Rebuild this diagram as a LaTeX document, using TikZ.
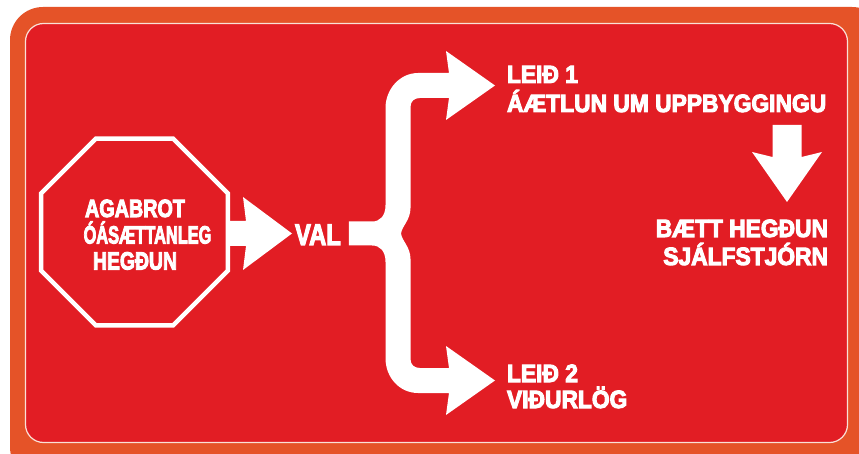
\documentclass[tikz,border=0pt]{standalone}
\usepackage{graphicx}
\usepackage{fontspec}
\setmainfont{Liberation Sans}[FakeStretch=0.912,BoldFeatures={FakeBold=4}]
\usetikzlibrary{shapes.geometric}
\definecolor{framecol}{RGB}{229,83,40}
\definecolor{panelred}{RGB}{226,29,36}
\definecolor{edgeline}{RGB}{250,225,215}
\begin{document}
\begin{tikzpicture}[x=1pt,y=-1pt,
  lbl/.style={text=white,inner sep=0pt,outer sep=0pt,font=\bfseries\fontsize{25}{28}\selectfont},
  octlbl/.style={lbl},
  vallbl/.style={lbl,font=\bfseries\fontsize{30}{32}\selectfont},
  blockarrow/.style={fill=white,draw=none}]
\useasboundingbox (0,0) rectangle (859,454);
\fill[white] (0,0) rectangle (859,454);
\begin{scope}
  \clip (0,0) rectangle (859,454);
  \fill[framecol,rounded corners=33pt] (10,7) rectangle (885,480);
\end{scope}
\filldraw[fill=panelred,draw=edgeline,line width=1.2pt,rounded corners=18pt] (25.5,23.5) rectangle (847.5,442.5);

% octagon
\node[regular polygon,regular polygon sides=8,draw=white,line width=4.5pt,
      minimum size=202pt,inner sep=0pt] (oct) at (134.5,232) {};
\node[octlbl,anchor=base] (o1) at (135,217) {\scalebox{0.867}[1]{AGABROT}};
\node[octlbl,anchor=base] (o2) at (147.5,243.5) {\scalebox{0.717}[1]{ÓÁSÆTTANLEG}};
\node[octlbl,anchor=base] (o3) at (135,269.5) {\scalebox{0.85}[1]{HEGÐUN}};

% VAL
\node[vallbl,anchor=base west] (val) at (295,245) {\scalebox{0.87}[1]{VAL}};

% arrow octagon -> VAL
\coordinate (a1s) at ([xshift=-3pt]oct.east);
\coordinate (a1t) at ([xshift=-3pt]val.west |- 0,233.5);
\fill[blockarrow] (a1s |- 0,221) -- (246,221) -- (243,197) -- (a1t) -- (243,270) -- (246,246) -- (a1s |- 0,246) -- cycle;

% brace with two arrows
\coordinate (bstart) at ([xshift=8pt]val.east);
\fill[blockarrow] (bstart |- 0,221.5) -- (372,221.5)
  .. controls (380,221.5) and (385.5,216) .. (385.5,205) -- (385.5,108)
  .. controls (385.5,89) and (400,73) .. (418,73) -- (449,73) -- (446,51) -- (495,85.5)
  -- (446,120) -- (449,98) -- (420,98)
  .. controls (414,98) and (410.5,101.5) .. (410.5,107) -- (410.5,208)
  .. controls (410.5,220) and (402,226) .. (401,233.5)
  .. controls (402,241) and (410.5,247) .. (410.5,259) -- (410.5,359)
  .. controls (410.5,364.5) and (414,368) .. (420,368) -- (449,368) -- (446,346) -- (495,380.5)
  -- (446,415) -- (449,393) -- (418,393)
  .. controls (400,393) and (385.5,378) .. (385.5,358) -- (385.5,262)
  .. controls (385.5,251) and (380,245.5) .. (372,245.5) -- (bstart |- 0,245.5) -- cycle;

% route 1
\node[lbl,anchor=base west] (r1a) at (507,83) {LEIÐ 1};
\node[lbl,anchor=base west] (r1b) at (507,112) {ÁÆTLUN UM UPPBYGGINGU};

% down arrow
\fill[blockarrow] (772.5,125) -- (801.5,125) -- (801.5,157) -- (822,152) -- (787,202)
  -- (752,152) -- (772.5,157) -- cycle;

% result
\node[lbl,anchor=base east] (res1) at (828,237) {BÆTT HEGÐUN};
\node[lbl,anchor=base east] (res2) at (828,265) {SJÁLFSTJÓRN};

% route 2
\node[lbl,anchor=base west] (r2a) at (507,382) {LEIÐ 2};
\node[lbl,anchor=base west] (r2b) at (507,408) {VIÐURLÖG};
\end{tikzpicture}
\end{document}
